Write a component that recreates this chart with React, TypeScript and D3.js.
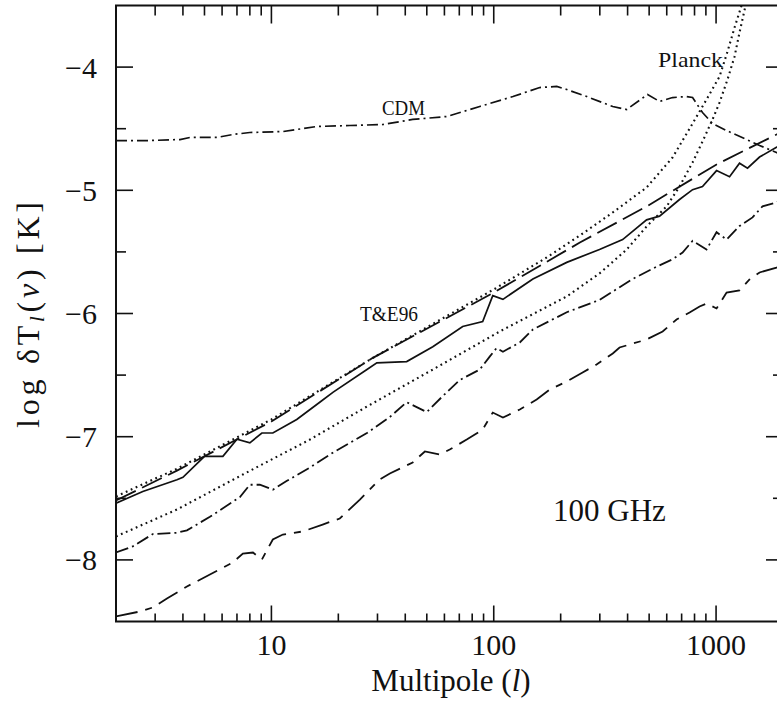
import React from 'react';
import * as d3 from 'd3';

const W = 777;
const H = 706;

// Axis ticks
const xMajorTicks = [10, 100, 1000];
const xTickLabels = ['10', '100', '1000'];
const yMajorTicks = [-8, -7, -6, -5, -4];
const yTickLabels = ['−8', '−7', '−6', '−5', '−4'];

// CDM (dash-dot, top)
const cdmL = [2, 2.84, 3.88, 4.3, 5.69, 6.71, 8, 11.3, 16, 22.5, 31.7, 43.2, 61.5, 86.5, 122, 161, 192, 213, 262, 343, 396, 492, 557, 637, 737, 784, 869, 964, 1115, 1371, 1569, 1870, 2000];
const cdmV = [-4.596, -4.596, -4.588, -4.571, -4.571, -4.547, -4.531, -4.523, -4.482, -4.474, -4.466, -4.425, -4.401, -4.32, -4.239, -4.166, -4.157, -4.182, -4.239, -4.32, -4.344, -4.222, -4.279, -4.247, -4.239, -4.247, -4.369, -4.458, -4.515, -4.588, -4.636, -4.693, -4.72];

// T&E96 (long dash)
const teL = [2, 3.76, 10, 28.6, 100, 244, 487, 1005, 1870, 2000];
const teV = [-7.518, -7.275, -6.877, -6.36, -5.83, -5.424, -5.131, -4.79, -4.547, -4.52];

// Planck (dotted, upper)
const planckAL = [2, 3.76, 10, 28.6, 100, 173, 244, 343, 487, 637, 784, 906, 1037, 1126, 1211, 1302, 1400];
const planckAV = [-7.485, -7.26, -6.86, -6.36, -5.805, -5.545, -5.367, -5.18, -4.977, -4.734, -4.458, -4.263, -4.076, -3.873, -3.679, -3.5, -3.3];

// Planck (dotted, lower)
const planckBL = [2, 3.76, 7.44, 14.9, 26.9, 53.2, 106.4, 212.9, 299, 396, 487, 599, 685, 784, 869, 964, 1037, 1126, 1211, 1275, 1357, 1420];
const planckBV = [-7.81, -7.591, -7.307, -7.023, -6.755, -6.455, -6.146, -5.862, -5.675, -5.481, -5.294, -5.131, -4.969, -4.774, -4.604, -4.425, -4.287, -4.1, -3.914, -3.719, -3.5, -3.3];

// Solid
const solidL = [2, 2.64, 3.76, 4.0, 5.0, 6.05, 7.0, 8.0, 9.06, 10.15, 13, 16.5, 18.9, 26.9, 29.8, 40.6, 53.2, 72.5, 89.2, 99, 110, 150, 213, 299, 380, 487, 557, 685, 784, 869, 1005, 1150, 1275, 1385, 1569, 1870, 2000];
const solidV = [-7.54, -7.445, -7.35, -7.33, -7.16, -7.16, -7.02, -7.05, -6.97, -6.97, -6.86, -6.72, -6.64, -6.455, -6.4, -6.39, -6.27, -6.105, -6.065, -5.855, -5.885, -5.72, -5.585, -5.48, -5.4, -5.24, -5.21, -5.075, -4.995, -4.97, -4.84, -4.89, -4.78, -4.82, -4.73, -4.65, -4.62];

// Dash-dot (lower)
const dashDotL = [2, 2.38, 2.93, 3.76, 4.17, 5.29, 7.22, 8.0, 8.87, 10.15, 11.7, 14.9, 18.9, 26.9, 34.1, 40.6, 50, 59, 70.3, 86.5, 95.9, 103, 110, 131, 150, 213, 299, 421, 540, 637, 707, 784, 906, 1005, 1115, 1275, 1459, 1618, 1870, 2000];
const dashDotV = [-7.94, -7.89, -7.79, -7.78, -7.76, -7.65, -7.49, -7.39, -7.39, -7.43, -7.36, -7.25, -7.13, -6.97, -6.84, -6.72, -6.8, -6.67, -6.54, -6.455, -6.35, -6.28, -6.31, -6.235, -6.13, -5.99, -5.89, -5.72, -5.62, -5.56, -5.505, -5.41, -5.48, -5.34, -5.4, -5.29, -5.22, -5.13, -5.1, -5.07];

// Lowest dashed
const lowL = [2, 2.56, 2.93, 3.39, 4.17, 5.29, 6.71, 7.44, 8.26, 9.06, 10.15, 11.26, 13.85, 17.0, 20.3, 25.0, 30.7, 34.1, 43.2, 49.0, 57.2, 63.4, 75.6, 89.2, 99, 110, 131, 156, 178.5, 213, 251, 290, 343, 368, 487, 575, 664, 760, 843, 906, 1005, 1115, 1275, 1414, 1569, 1870, 2000];
const lowV = [-8.459, -8.419, -8.386, -8.313, -8.216, -8.119, -8.021, -7.948, -7.94, -7.997, -7.834, -7.794, -7.769, -7.713, -7.664, -7.51, -7.347, -7.299, -7.209, -7.12, -7.144, -7.104, -7.023, -6.942, -6.804, -6.844, -6.779, -6.698, -6.617, -6.552, -6.479, -6.414, -6.325, -6.276, -6.211, -6.146, -6.049, -5.992, -5.943, -5.919, -5.959, -5.83, -5.813, -5.724, -5.667, -5.627, -5.6];

const FONT = "'Liberation Serif', 'Times New Roman', serif";

export default function App() {
  const left = 116, right = 783, top = 5.5, bottom = 621.5;
  const x = d3.scaleLog().domain([2, 2000]).range([left, right]);
  const y = d3.scaleLinear().domain([-8.5, -3.5]).range([bottom, top]);
  const line = d3.line<[number, number]>().x(d => x(d[0])).y(d => y(d[1]));
  const zip = (a: number[], b: number[]) => a.map((v, i) => [v, b[i]] as [number, number]);

  const series = [
    { d: zip(cdmL, cdmV), dash: '11 4 2 4', w: 1.7 },
    { d: zip(teL, teV), dash: '22 7', w: 1.8 },
    { d: zip(planckAL, planckAV), dash: '1.8 3.6', w: 2.1 },
    { d: zip(planckBL, planckBV), dash: '1.8 3.6', w: 2.1 },
    { d: zip(solidL, solidV), dash: 'none', w: 1.7 },
    { d: zip(dashDotL, dashDotV), dash: '13 4 2 4', w: 1.8 },
    { d: zip(lowL, lowV), dash: '22 8 7 8', w: 1.8 },
  ];

  const xAll = x.ticks().filter(t => t > 2 && t < 2000);
  const xMinor = xAll.filter(t => !xMajorTicks.includes(t));
  const yMinor = d3.range(-8, -3.5, 0.5).filter(v => !Number.isInteger(v));

  return (
    <svg width={W} height={H} style={{ position: 'absolute', left: 0, top: 0, background: '#fff' }}>
      <defs>
        <clipPath id="plot">
          <rect x={left} y={top} width={right - left} height={bottom - top} />
        </clipPath>
      </defs>
      <rect x={0} y={0} width={W} height={H} fill="#fff" />
      <g clipPath="url(#plot)" fill="none" stroke="#111">
        {series.map((s, i) => (
          <path key={i} d={line(s.d) || ''} strokeWidth={s.w} strokeDasharray={s.dash} strokeLinecap="butt" />
        ))}
      </g>
      {/* frame */}
      <rect x={left} y={top} width={right - left} height={bottom - top} fill="none" stroke="#111" strokeWidth={2} />
      {/* ticks */}
      <g stroke="#111" strokeWidth={1.6}>
        {xMajorTicks.map(t => (
          <g key={'xM' + t}>
            <line x1={x(t)} x2={x(t)} y1={bottom} y2={bottom - 16} />
            <line x1={x(t)} x2={x(t)} y1={top} y2={top + 18} />
          </g>
        ))}
        {xMinor.map(t => (
          <g key={'xm' + t}>
            <line x1={x(t)} x2={x(t)} y1={bottom} y2={bottom - 8} />
            <line x1={x(t)} x2={x(t)} y1={top} y2={top + 10} />
          </g>
        ))}
        {yMajorTicks.map(t => (
          <g key={'yM' + t}>
            <line x1={left} x2={left + 17} y1={y(t)} y2={y(t)} />
            <line x1={right} x2={right - 17} y1={y(t)} y2={y(t)} />
          </g>
        ))}
        {yMinor.map(t => (
          <g key={'ym' + t}>
            <line x1={left} x2={left + 10} y1={y(t)} y2={y(t)} />
            <line x1={right} x2={right - 10} y1={y(t)} y2={y(t)} />
          </g>
        ))}
      </g>
      {/* tick labels */}
      <g fontFamily={FONT} fontSize={30} fill="#111">
        {xMajorTicks.map((t, i) => (
          <text key={'xl' + t} x={x(t)} y={655} textAnchor="middle">{xTickLabels[i]}</text>
        ))}
        {yMajorTicks.map((t, i) => (
          <text key={'yl' + t} x={97} y={y(t)} dy="0.35em" textAnchor="end">{yTickLabels[i]}</text>
        ))}
      </g>
      {/* axis titles */}
      <text x={451} y={691} textAnchor="middle" fontFamily={FONT} fontSize={31} fill="#111">
        Multipole (<tspan fontStyle="italic">l</tspan>)
      </text>
      <text transform="translate(39,315) rotate(-90)" textAnchor="middle" fontFamily={FONT} fontSize={32} fill="#111" textLength={226} lengthAdjust="spacing">
        log δT<tspan fontStyle="italic" fontSize={21} dy={5}>l</tspan><tspan dy={-5}>(</tspan><tspan fontStyle="italic">ν</tspan>)  [K]
      </text>
      {/* annotations */}
      <g fontFamily={FONT} fill="#111">
        <text x={382} y={115} fontSize={22} textLength={43} lengthAdjust="spacingAndGlyphs">CDM</text>
        <text x={658} y={67} fontSize={22} textLength={65} lengthAdjust="spacingAndGlyphs">Planck</text>
        <text x={360} y={321} fontSize={22} textLength={58} lengthAdjust="spacingAndGlyphs">T&amp;E96</text>
        <text x={553} y={521} fontSize={31}>100 GHz</text>
      </g>
    </svg>
  );
}
